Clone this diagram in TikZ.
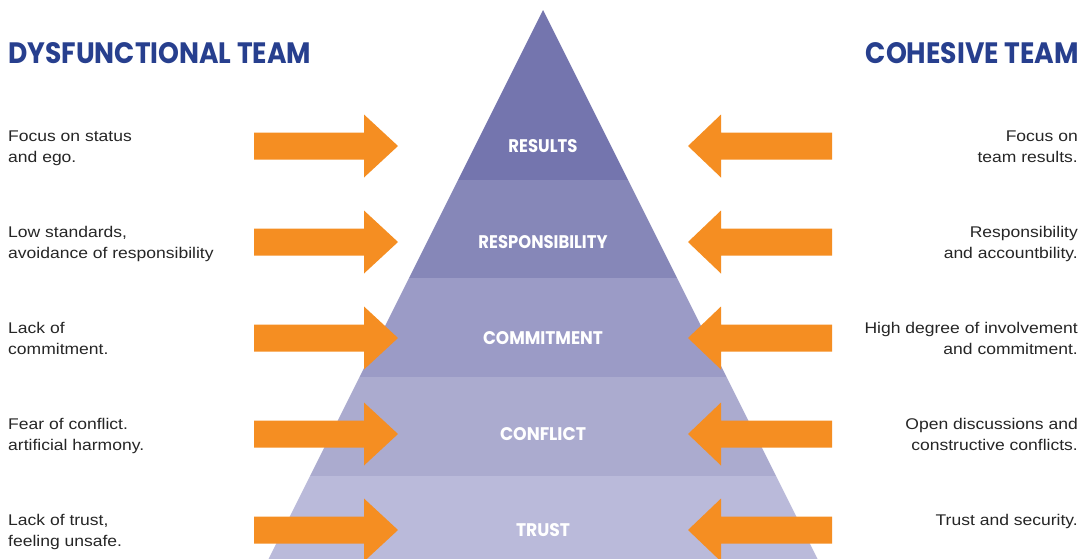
\documentclass[tikz,border=0pt]{standalone}
\usepackage{fontspec}
\usepackage{graphicx}
\setmainfont{Liberation Sans}[FakeStretch=1.13]
\newfontfamily\headfont{Poppins}

\definecolor{bandA}{HTML}{7475AE}
\definecolor{bandB}{HTML}{8687B8}
\definecolor{bandC}{HTML}{9B9BC6}
\definecolor{bandD}{HTML}{ABABCF}
\definecolor{bandE}{HTML}{BABADA}
\definecolor{arroworange}{HTML}{F58E22}
\definecolor{headblue}{HTML}{273F8E}
\definecolor{bodygray}{HTML}{262626}

\tikzset{
  headline/.style={inner sep=0pt, text=headblue},
  levellabel/.style={inner sep=0pt, text=white},
  lefttext/.style={anchor=north west, inner sep=0pt, align=left,
    font=\fontsize{15.5}{21}\selectfont, text=bodygray},
  righttext/.style={anchor=north east, inner sep=0pt, align=right,
    font=\fontsize{15.5}{21}\selectfont, text=bodygray},
  % orange block arrow pointing right, tip at the pic origin
  pushright/.pic={
    \fill[arroworange] (-144,-13.5) -- (-34,-13.5) -- (-34,-31.5) -- (0,0)
      -- (-34,31.5) -- (-34,13.5) -- (-144,13.5) -- cycle;
  },
  % orange block arrow pointing left, tip at the pic origin
  pushleft/.pic={
    \fill[arroworange] (144,-13.5) -- (33,-13.5) -- (33,-31.5) -- (0,0)
      -- (33,31.5) -- (33,13.5) -- (144,13.5) -- cycle;
  },
}

\newcommand{\levelword}[3]{\resizebox{#1pt}{#2pt}{\headfont\bfseries #3}}

\begin{document}
\begin{tikzpicture}[x=1pt,y=-1pt]
\useasboundingbox (0,0) rectangle (1080,558);
\fill[white] (0,0) rectangle (1080,558);

% pyramid bands
\begin{scope}
  \clip (543,10) -- (248,600) -- (838,600) -- cycle;
  \fill[bandA] (240,0)   rectangle (850,180);
  \fill[bandB] (240,180) rectangle (850,278);
  \fill[bandC] (240,278) rectangle (850,377);
  \fill[bandD] (240,377) rectangle (850,476);
  \fill[bandE] (240,476) rectangle (850,600);
\end{scope}

% column headings
\node[headline, anchor=base west] (dysfunctional) at (8,63)
  {\levelword{303}{21}{DYSFUNCTIONAL TEAM}};
\node[headline, anchor=base east] (cohesive) at (1079,63)
  {\levelword{213}{21}{COHESIVE TEAM}};

% level labels
\node[levellabel] (results)  at (543,146) {\levelword{69}{13}{RESULTS}};
\node[levellabel] (respons)  at (543,242) {\levelword{129}{13}{RESPONSIBILITY}};
\node[levellabel] (commit)   at (543,338) {\levelword{120}{13}{COMMITMENT}};
\node[levellabel] (conflict) at (543,434) {\levelword{86}{13}{CONFLICT}};
\node[levellabel] (trust)    at (543,530) {\levelword{54}{13}{TRUST}};

% arrows pressing on each level
\foreach \yy/\nm in {146/a,242/b,338/c,434/d,530/e}{
  \pic (inL\nm) at (398,\yy) {pushright};
  \pic (inR\nm) at (688,\yy) {pushleft};
}

% dysfunctional symptoms
\node[lefttext] (dys1) at (8,126.8) {\strut Focus on status\\\strut and ego.};
\node[lefttext] (dys2) at (8,222.8) {\strut Low standards,\\\strut avoidance of responsibility};
\node[lefttext] (dys3) at (8,318.8) {\strut Lack of\\\strut commitment.};
\node[lefttext] (dys4) at (8,414.8) {\strut Fear of conflict.\\\strut artificial harmony.};
\node[lefttext] (dys5) at (8,510.8) {\strut Lack of trust,\\\strut feeling unsafe.};

% cohesive qualities
\node[righttext] (coh1) at (1078,126.8) {\strut Focus on\\\strut team results.};
\node[righttext] (coh2) at (1078,222.8) {\strut Responsibility\\\strut and accountbility.};
\node[righttext] (coh3) at (1078,318.8) {\strut High degree of involvement\\\strut and commitment.};
\node[righttext] (coh4) at (1078,414.8) {\strut Open discussions and\\\strut constructive conflicts.};
\node[righttext] (coh5) at (1078,510.8) {\strut Trust and security.};
\end{tikzpicture}
\end{document}
